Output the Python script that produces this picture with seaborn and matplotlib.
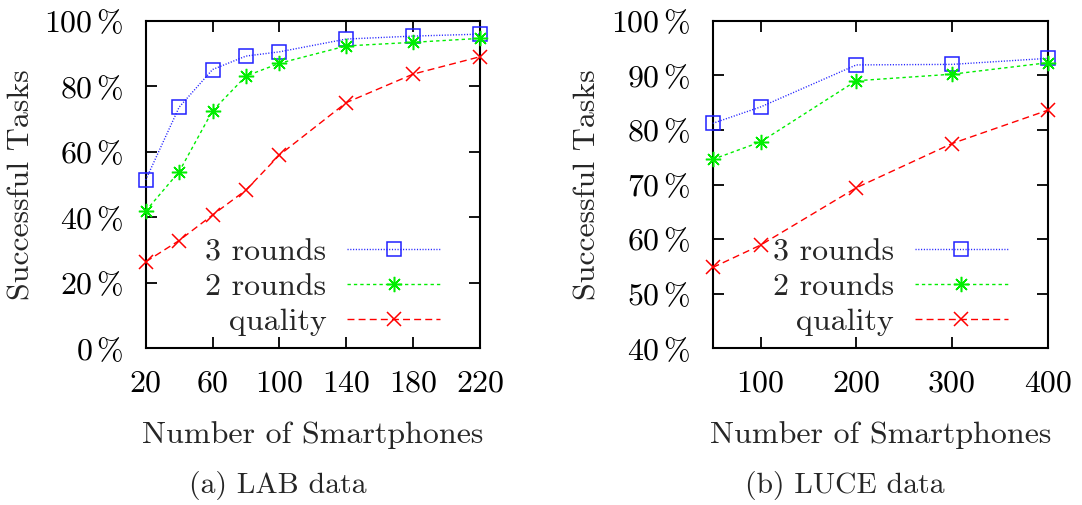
import numpy as np
import pandas as pd
import matplotlib
matplotlib.use("Agg")
import matplotlib.pyplot as plt
import seaborn as sns

# LAB data
lab_phones = [20, 40, 60, 80, 100, 140, 180, 220]
lab_3rounds = [51.4, 73.6, 85.1, 89.2, 90.5, 94.4, 95.3, 95.9]
lab_2rounds = [41.9, 53.9, 72.5, 83.1, 87.0, 92.3, 93.4, 94.6]
lab_quality = [26.4, 32.9, 40.7, 48.3, 59.0, 75.0, 83.7, 89.0]
lab_xticks = [20, 60, 100, 140, 180, 220]
lab_yticks = [0, 20, 40, 60, 80, 100]

# LUCE data
luce_phones = [50, 100, 200, 300, 400]
luce_3rounds = [81.2, 84.2, 91.9, 92.0, 93.1]
luce_2rounds = [74.6, 77.8, 89.0, 90.2, 92.3]
luce_quality = [54.8, 58.9, 69.4, 77.5, 83.6]
luce_xticks = [100, 200, 300, 400]
luce_yticks = [40, 50, 60, 70, 80, 90, 100]

series_labels = ["3 rounds", "2 rounds", "quality"]

sns.set_theme(style="ticks")
plt.rcParams["font.family"] = ["cmr10", "DejaVu Serif"]
plt.rcParams["mathtext.fontset"] = "cm"
plt.rcParams["axes.formatter.use_mathtext"] = True
plt.rcParams["lines.scale_dashes"] = False

FS = 23

styles = [
    dict(color="#2020ff", marker="s", markersize=9.5, markerfacecolor="none",
         markeredgecolor="#2020ff", markeredgewidth=1.1, linestyle=(0, (0.8, 1.2)),
         linewidth=1.0),
    dict(color="#00ee00", marker=(8, 2, 0), markersize=11, markerfacecolor="none",
         markeredgecolor="#00ee00", markeredgewidth=1.1, linestyle=(0, (2.4, 2.2)),
         linewidth=1.0),
    dict(color="#ff0000", marker="x", markersize=10, markerfacecolor="none",
         markeredgecolor="#ff0000", markeredgewidth=1.1, linestyle=(0, (5, 3)),
         linewidth=1.0),
]

fig = plt.figure(figsize=(10.82, 5.05), dpi=100)
W, H = 1082, 505


def make_axes(x0, x1, y0, y1):
    return fig.add_axes([x0 / W, 1 - y1 / H, (x1 - x0) / W, (y1 - y0) / H])


def draw(ax, x, ys, xticks, yticks, xlim, ylim):
    for y, lab, st in zip(ys, series_labels, styles):
        df = pd.DataFrame({"phones": x, "tasks": y})
        sns.lineplot(data=df, x="phones", y="tasks", ax=ax, label=lab,
                     clip_on=False, zorder=3, **st)
    ax.set_xlim(*xlim)
    ax.set_ylim(*ylim)
    ax.set_xticks(xticks)
    ax.set_xticklabels([str(t) for t in xticks])
    ax.set_yticks(yticks)
    ax.set_yticklabels([r"$%d\,\%%$" % t for t in yticks])
    ax.tick_params(direction="in", length=8, width=1.3, top=True, right=True,
                   labelsize=FS, pad=16, colors="black")
    for s in ax.spines.values():
        s.set_linewidth(1.5)
        s.set_color("black")
        s.set_zorder(2)
    ax.set_xlabel("Number of Smartphones", fontsize=FS)
    ax.set_ylabel("Successful Tasks", fontsize=FS)
    ax.xaxis.set_label_coords(0.5, -0.222)
    ax.yaxis.set_label_coords(-0.331, 0.5)
    ax.legend(loc="center right", bbox_to_anchor=(0.88, 0.187), frameon=False,
              markerfirst=False, fontsize=FS, handlelength=2.9,
              handletextpad=0.65, labelspacing=0.2, borderpad=0,
              borderaxespad=0)


ax1 = make_axes(145.7, 480, 20.7, 348.3)
draw(ax1, lab_phones, [lab_3rounds, lab_2rounds, lab_quality],
     lab_xticks, lab_yticks, (20, 220), (0, 100))

ax2 = make_axes(712.7, 1047.7, 20.7, 348.3)
draw(ax2, luce_phones, [luce_3rounds, luce_2rounds, luce_quality],
     luce_xticks, luce_yticks, (50, 400), (40, 100))

fig.text(278 / W, 1 - 486 / H, "(a) LAB data", fontsize=FS * 0.93,
         ha="center", va="center")
fig.text(845 / W, 1 - 486 / H, "(b) LUCE data", fontsize=FS * 0.93,
         ha="center", va="center")

fig.savefig("out.png", dpi=100)
